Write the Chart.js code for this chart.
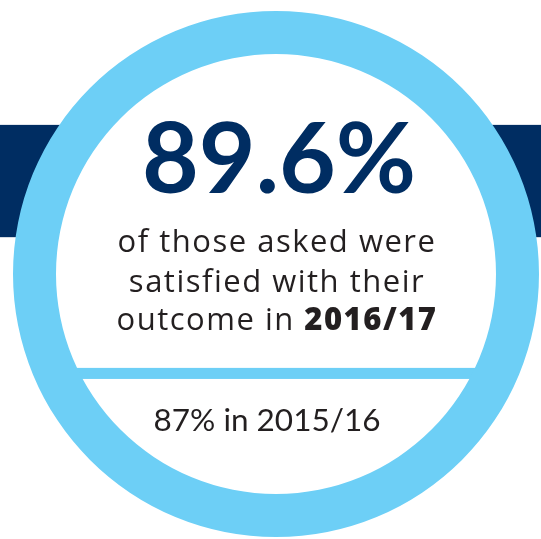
<!DOCTYPE html>
<html>
<head>
<meta charset="utf-8">
<script src="https://cdn.jsdelivr.net/npm/chart.js@4"></script>
<style>
html,body{margin:0;padding:0;background:#ffffff;}
#wrap{width:541px;height:539px;}
</style>
</head>
<body>
<div id="wrap"><canvas id="c" width="541" height="539"></canvas></div>
<script>
// ---- data ----
const years = ['2016/17', '2015/16'];
const satisfiedPct = [89.6, 87];
const ringLabels = ['Satisfied'];
const ringValues = [100];
const introLines = ['of those asked were', 'satisfied with their', 'outcome in '];

const NAVY = '#002d62';
const SKY = '#6dcff6';
const INK = '#231f20';
const BODY_FONT = '"Open Sans", "Noto Sans", sans-serif';
const HEAD_FONT = 'Lato, "Noto Sans", sans-serif';
const FOOT_FONT = 'Lato, "Noto Sans", sans-serif';

function spaced(ctx, text, x, yy, spacing) {
  ctx.letterSpacing = spacing + 'px';
  ctx.fillText(text, x, yy);
  ctx.letterSpacing = '0px';
}

const decor = {
  id: 'decor',
  beforeDatasetsDraw(chart) {
    const arc = chart.getDatasetMeta(0).data[0];
    if (!arc) return;
    const {x, y, outerRadius: R, innerRadius: r} = arc.getProps(['x','y','outerRadius','innerRadius'], true);
    const ctx = chart.ctx;
    ctx.save();
    // navy band behind the circle
    ctx.fillStyle = NAVY;
    ctx.fillRect(0, y - R * 0.567, chart.width, R * 0.427);
    // white inside of ring
    ctx.fillStyle = '#ffffff';
    ctx.beginPath();
    ctx.arc(x, y, (R + r) / 2, 0, Math.PI * 2);
    ctx.fill();
    // divider line
    ctx.save();
    ctx.beginPath();
    ctx.arc(x, y, (R + r) / 2, 0, Math.PI * 2);
    ctx.clip();
    ctx.fillStyle = SKY;
    ctx.fillRect(x - R, y + R * 0.357, 2 * R, R * 0.042);
    ctx.restore();
    ctx.restore();
  },
  afterDatasetsDraw(chart) {
    const arc = chart.getDatasetMeta(0).data[0];
    if (!arc) return;
    const {x, y, outerRadius: R} = arc.getProps(['x','y','outerRadius'], true);
    const ctx = chart.ctx;
    ctx.save();
    ctx.textBaseline = 'alphabetic';
    ctx.textAlign = 'center';
    // headline
    ctx.fillStyle = NAVY;
    ctx.font = '700 98px ' + HEAD_FONT;
    ctx.fillText(satisfiedPct[0] + '%', x + 3, y - R * 0.308);
    // intro lines
    ctx.fillStyle = INK;
    const regular = '400 31px ' + BODY_FONT;
    const bold = '800 31px ' + BODY_FONT;
    const sp = 1.5;
    ctx.font = regular;
    spaced(ctx, introLines[0], x + 1, y - R * 0.084, sp);
    spaced(ctx, introLines[1], x + 1, y + R * 0.068, sp);
    // mixed last line
    ctx.letterSpacing = sp + 'px';
    ctx.font = regular;
    const w1 = ctx.measureText(introLines[2]).width;
    ctx.font = bold;
    const w2 = ctx.measureText(years[0]).width;
    const start = x + 1 - (w1 + w2) / 2;
    ctx.textAlign = 'left';
    ctx.font = regular;
    ctx.fillText(introLines[2], start, y + R * 0.213);
    ctx.font = bold;
    ctx.fillText(years[0], start + w1, y + R * 0.213);
    ctx.letterSpacing = '0px';
    // previous year
    ctx.textAlign = 'center';
    ctx.font = '400 31.5px ' + FOOT_FONT;
    ctx.fillText(satisfiedPct[1] + '% in ' + years[1], x - 9, y + R * 0.597);
    ctx.restore();
  }
};

new Chart(document.getElementById('c'), {
  type: 'doughnut',
  data: {
    labels: ringLabels,
    datasets: [{
      data: ringValues,
      backgroundColor: [SKY],
      borderWidth: 0,
      hoverOffset: 0
    }]
  },
  options: {
    responsive: false,
    maintainAspectRatio: false,
    animation: false,
    radius: 263,
    cutout: 220,
    layout: { padding: { left: 13, right: 2, top: 11, bottom: 2 } },
    plugins: {
      legend: { display: false },
      tooltip: { enabled: false }
    },
    events: []
  },
  plugins: [decor]
});
</script>
</body>
</html>
